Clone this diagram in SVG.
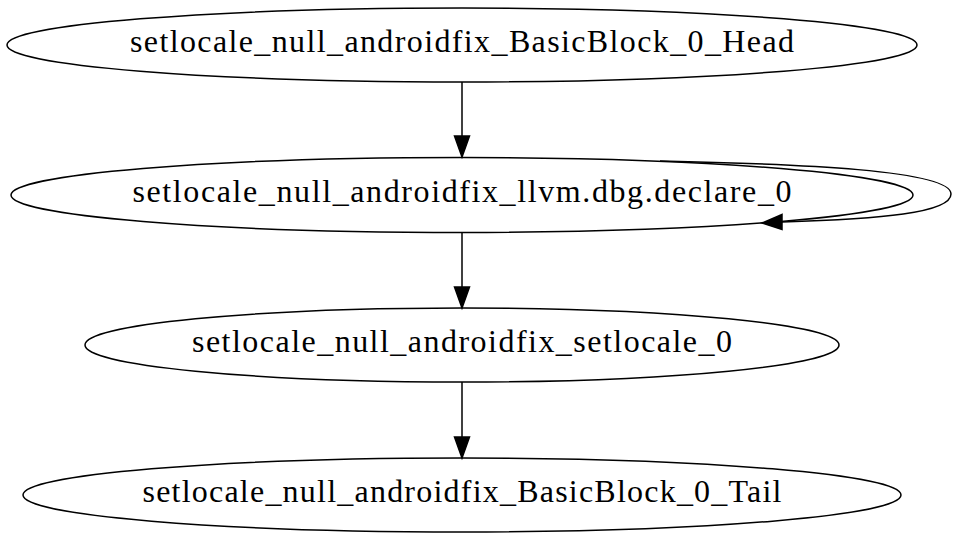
<svg xmlns="http://www.w3.org/2000/svg" width="960" height="541" viewBox="0 0 960 541">
<style>
.node ellipse{fill:none;stroke:#000;stroke-width:1.5}
.node text{font-family:"Liberation Serif","Times New Roman",serif;font-size:32px;fill:#000;text-anchor:middle}
.edge path{fill:none;stroke:#000;stroke-width:1.5}
.edge polygon{fill:#000;stroke:#000;stroke-width:1.5}
</style>
<rect width="960" height="541" fill="#fff"/>
<g id="connectors">
<g class="edge" id="e_head_declare"><path d="M462,82 L462,136"/><polygon points="454.5,136 462,157 469.5,136"/></g>
<g class="edge" id="e_declare_self"><path d="M660,161 C800,164 951,170 951,194 C951,213 880,219 782,222"/><polygon points="782,214.5 762,223 782,229.5"/></g>
<g class="edge" id="e_declare_setlocale"><path d="M462,233 L462,287"/><polygon points="454.5,287 462,308 469.5,287"/></g>
<g class="edge" id="e_setlocale_tail"><path d="M462,382 L462,437"/><polygon points="454.5,437 462,458 469.5,437"/></g>
</g>
<g class="node" id="n_head"><ellipse cx="462" cy="45" rx="455" ry="37"/><text x="462" y="52" textLength="664">setlocale_null_androidfix_BasicBlock_0_Head</text></g>
<g class="node" id="n_declare"><ellipse cx="462" cy="195" rx="451" ry="37.5"/><text x="462" y="202" textLength="659">setlocale_null_androidfix_llvm.dbg.declare_0</text></g>
<g class="node" id="n_setlocale"><ellipse cx="462" cy="345" rx="377" ry="37"/><text x="462" y="352" textLength="540">setlocale_null_androidfix_setlocale_0</text></g>
<g class="node" id="n_tail"><ellipse cx="462" cy="495" rx="439" ry="37"/><text x="462" y="502" textLength="639">setlocale_null_androidfix_BasicBlock_0_Tail</text></g>
</svg>
